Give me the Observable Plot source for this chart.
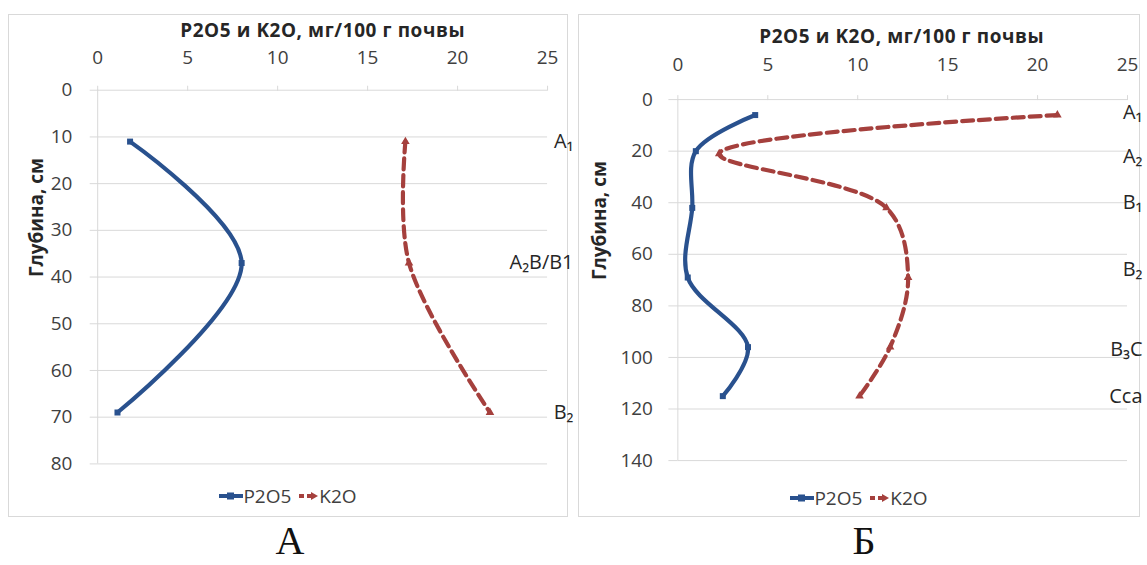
<!DOCTYPE html>
<html><head><meta charset="utf-8">
<script src="https://cdn.jsdelivr.net/npm/d3@7"></script>
<script src="https://cdn.jsdelivr.net/npm/@observablehq/plot@0.6"></script>
<style>
body{margin:0;background:#fff;font-family:"Open Sans",sans-serif;}
#wrap{position:relative;width:1147px;height:565px;overflow:hidden;background:#fff;}
.panel{position:absolute;box-sizing:border-box;border:1px solid #d9d9d9;}
.panel svg{position:absolute;left:-1px;top:-1px;overflow:visible;}
.legend{position:absolute;left:0;right:0;text-align:center;font-size:19px;color:#404040;height:24px;line-height:24px;white-space:nowrap;}
.legend svg{position:static;vertical-align:middle;}
.legend span{vertical-align:middle;}
.cap{position:absolute;font-family:"Liberation Serif",serif;font-size:40px;line-height:36px;transform:translateX(-50%);color:#111;}
</style></head>
<body><div id="wrap"></div>
<script>
// ---------- data ----------
const xTicks = [0, 5, 10, 15, 20, 25];
const seriesNames = ["P2O5", "K2O"];
const axisTitle = "P2O5 и K2O, мг/100 г почвы";
const yTitle = "Глубина, см";

// Panel A
const depthA = [11, 37, 69];
const p2o5A = [1.8, 8.0, 1.1];
const k2oA = [17.1, 17.3, 21.8];
const yTicksA = [0, 10, 20, 30, 40, 50, 60, 70, 80];
const horizonsA = ["A₁", "A₂B/B1", "B₂"];
const horizonDepthA = [11, 37, 69];

// Panel Б
const depthBp = [6, 20, 42, 69, 96, 115];
const p2o5B = [4.3, 1.0, 0.8, 0.55, 3.9, 2.5];
const depthBk = [6, 21, 42, 69, 96, 115];
const k2oB = [21.1, 2.3, 11.6, 12.8, 11.8, 10.1];
const yTicksB = [0, 20, 40, 60, 80, 100, 120, 140];
const horizonsB = ["A₁", "A₂", "B₁", "B₂", "B₃C", "Cca"];
const horizonDepthB = [5, 22, 40, 66, 97, 115];

const captions = ["А", "Б"];

// ---------- styles ----------
const BLUE = "#29518e";
const RED = "#a5403d";
const GRID = "#d9d9d9";
const TXT = "#404040";

function panel(o) {
  const p = o.p.map((v, i) => ({x: v, y: o.dp[i]}));
  const k = o.k.map((v, i) => ({x: v, y: o.dk[i]}));
  const hz = o.hz.map((t, i) => ({t, y: o.hd[i]}));
  const chart = Plot.plot({
    width: o.width, height: o.height,
    marginLeft: o.ml, marginRight: o.mr, marginTop: o.mt, marginBottom: o.mb,
    style: {fontFamily: "'Open Sans', sans-serif", fontSize: "19px", color: TXT, background: "transparent", overflow: "visible"},
    x: {domain: [0, 25], axis: null},
    y: {domain: o.ydom, reverse: true, axis: null},
    marks: [
      Plot.gridY(o.yTicks, {stroke: GRID, strokeOpacity: 1, strokeWidth: 1}),
      Plot.ruleX([0], {stroke: GRID, strokeWidth: 1}),
      Plot.axisX({anchor: "top", ticks: xTicks, tickSize: 5, tickPadding: o.xpad, stroke: GRID, fill: TXT, label: null, fontSize: 19}),
      Plot.axisY({anchor: "left", ticks: o.yTicks, tickSize: o.yts, tickPadding: o.ypad, stroke: GRID, fill: TXT, label: null, fontSize: 19}),
      Plot.text([axisTitle], {frameAnchor: "top", dy: o.tdy, dx: o.tdx, fontWeight: "bold", fontSize: 19, fill: "#262626"}),
      Plot.text([yTitle], {frameAnchor: "left", dx: o.ydx, rotate: -90, fontWeight: "bold", fontSize: 19, fill: "#262626"}),
      Plot.line(p, {x: "x", y: "y", curve: "catmull-rom", stroke: BLUE, strokeWidth: 4.2}),
      Plot.dot(p, {x: "x", y: "y", symbol: "square", r: 3.4, fill: BLUE, stroke: null}),
      Plot.line(k, {x: "x", y: "y", curve: "catmull-rom", stroke: RED, strokeWidth: 4.2, strokeDasharray: "11,6"}),
      Plot.dot(k, {x: "x", y: "y", symbol: "triangle", r: 3.2, fill: RED, stroke: null}),
      Plot.text(hz, {y: "y", text: "t", frameAnchor: "right", dx: o.hdx, textAnchor: "end", fontSize: 20, fill: "#262626"})
    ]
  });
  chart.querySelectorAll("text").forEach(t => {
    if (t.textContent === axisTitle) t.setAttribute("letter-spacing", "0.6");
  });
  const div = document.createElement("div");
  div.className = "panel";
  Object.assign(div.style, {left: o.left + "px", top: o.top + "px", width: o.width + "px", height: o.ph + "px"});
  div.appendChild(chart);
  const leg = document.createElement("div");
  leg.className = "legend";
  leg.style.top = o.legTop + "px";
  leg.innerHTML =
    `<svg width="24" height="10"><line x1="0" y1="5" x2="24" y2="5" stroke="${BLUE}" stroke-width="4"/><rect x="8" y="1.5" width="7" height="7" fill="${BLUE}"/></svg><span>${seriesNames[0]}</span>` +
    `<span style="display:inline-block;width:8px"></span>` +
    `<svg width="20" height="10"><line x1="0" y1="5" x2="5" y2="5" stroke="${RED}" stroke-width="4"/><line x1="8" y1="5" x2="14" y2="5" stroke="${RED}" stroke-width="4"/><polygon points="12,1 19,5 12,9" fill="${RED}"/></svg><span>${seriesNames[1]}</span>`;
  div.appendChild(leg);
  document.getElementById("wrap").appendChild(div);
  const cap = document.createElement("div");
  cap.className = "cap";
  cap.textContent = o.cap;
  Object.assign(cap.style, {left: o.capX + "px", top: "523px"});
  document.getElementById("wrap").appendChild(cap);
}

panel({
  p: p2o5A, dp: depthA, k: k2oA, dk: depthA, hz: horizonsA, hd: horizonDepthA,
  yTicks: yTicksA, ydom: [0, 80],
  left: 8, top: 14, width: 560, ph: 503, height: 470,
  ml: 89.5, mr: 19, mt: 76, mb: 19,
  xpad: 21, yts: 7.5, ypad: 18, tdy: -67, tdx: 0, ydx: -61, hdx: 26,
  legTop: 467, cap: captions[0], capX: 290
});
panel({
  p: p2o5B, dp: depthBp, k: k2oB, dk: depthBk, hz: horizonsB, hd: horizonDepthB,
  yTicks: yTicksB, ydom: [0, 140],
  left: 578, top: 14, width: 562, ph: 503, height: 470,
  ml: 99.7, mr: 11, mt: 85.4, mb: 22.3,
  xpad: 24, yts: 9, ypad: 16, tdy: -70, tdx: -1, ydx: -78, hdx: 15,
  legTop: 469, cap: captions[1], capX: 864
});
</script></body></html>
